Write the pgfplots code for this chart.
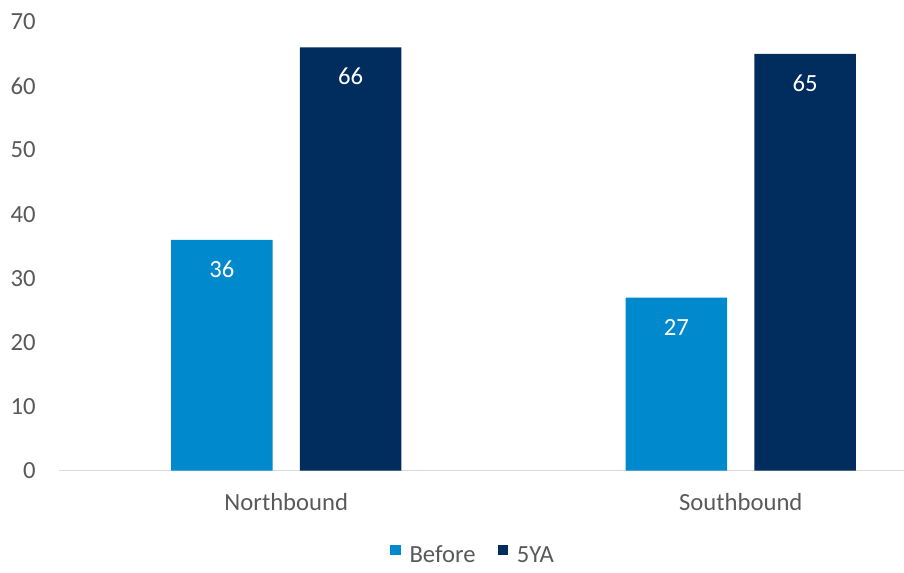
\documentclass[border=0pt]{standalone}
\usepackage{pgfplots}
\pgfplotsset{compat=1.18}
\usepackage{fontspec}
\setmainfont{Carlito}
\definecolor{lblue}{RGB}{0,137,204}
\definecolor{navy}{RGB}{0,44,94}
\definecolor{tgray}{RGB}{89,89,89}
\definecolor{agray}{RGB}{217,217,217}
\newcommand{\cf}{\fontsize{18.5}{22}\selectfont}
\begin{document}
\begin{tikzpicture}
\path[use as bounding box] (-44.25pt,-75.975pt) rectangle (633.75pt,353.025pt);
\begin{axis}[
  at={(0,0)}, anchor=south west,
  width=633.75pt, height=336.75pt, scale only axis,
  xmin=-0.5, xmax=1.359, ymin=0, ymax=70,
  ybar=20.5pt, bar width=76.1pt,
  axis lines*=left,
  y axis line style={draw=none},
  x axis line style={draw=agray, line width=1pt},
  major tick length=0pt, tick style={draw=none},
  ytick={0,10,...,70},
  xtick={0,1}, xticklabels={Northbound,Southbound},
  ticklabel style={font=\cf, text=tgray},
  yticklabel style={anchor=east, inner sep=0pt, xshift=-17.25pt},
  xticklabel style={anchor=base, inner sep=0pt, yshift=-30pt},
  /pgf/number format/assume math mode=true,
  nodes near coords,
  nodes near coords style={font=\cf, text=white, anchor=base, inner sep=0pt, yshift=-28.2pt},
  legend columns=2,
  legend image code/.code={\fill[#1] (0pt,0pt) rectangle (8pt,8pt);},
  legend style={draw=none, fill=none, inner sep=0pt, at={(0.4888,0)}, anchor=south, yshift=-70.7pt, font=\cf, text=tgray, nodes={inner sep=0pt},
    /tikz/every odd column/.append style={column sep=6.5pt},
    /tikz/every even column/.append style={column sep=16.5pt}},
  clip=false,
]
\addplot[fill=lblue, draw=none] coordinates {(0,36) (1,27)};
\addplot[fill=navy, draw=none] coordinates {(0,66) (1,65)};
\legend{Before,5YA}
\end{axis}
\end{tikzpicture}
\end{document}
